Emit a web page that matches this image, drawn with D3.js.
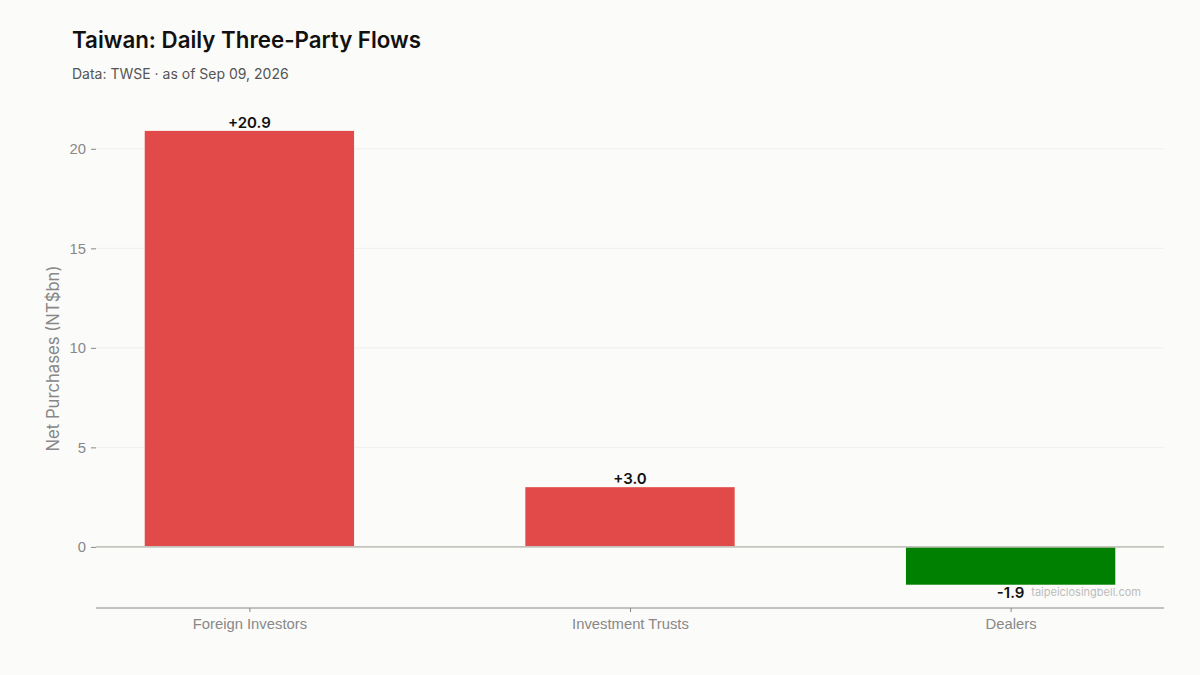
<!DOCTYPE html>
<meta charset="utf-8">
<style>
body { margin: 0; background: #fbfbf9; }
svg { display: block; font-family: Inter, "Noto Sans", sans-serif; }
.tick text { fill: #888; font-size: 14.8px; }
.tick line { stroke: #888; }
.grid line { stroke: #efefeb; stroke-width: 1; }
</style>
<body>
<script src="https://cdn.jsdelivr.net/npm/d3@7"></script>
<script>
var categories = ["Foreign Investors", "Investment Trusts", "Dealers"];
var values = [20.9, 3.0, -1.9];
var yTicks = [0, 5, 10, 15, 20];

var width = 1200, height = 675;
var mLeft = 96, mRight = 1164, mTop = 109, mBottom = 608;

var svg = d3.select("body").append("svg")
    .attr("width", width)
    .attr("height", height);

svg.append("rect").attr("width", width).attr("height", height).attr("fill", "#fbfbf9");

var x = d3.scalePoint().domain(categories).range([mLeft, mRight]).padding(0.403);
var barW = x.step() * 0.55;
var y = d3.scaleLinear().domain([-3.07, 22]).range([mBottom, mTop]);

// grid
svg.append("g").attr("class", "grid")
  .selectAll("line").data(yTicks.filter(d => d !== 0))
  .enter().append("line")
    .attr("x1", mLeft).attr("x2", mRight)
    .attr("y1", d => y(d)).attr("y2", d => y(d));

// bars
svg.selectAll(".bar").data(values)
  .enter().append("rect")
    .attr("class", "bar")
    .attr("x", (d, i) => x(categories[i]) - barW / 2)
    .attr("width", barW)
    .attr("y", d => y(Math.max(0, d)))
    .attr("height", d => Math.abs(y(d) - y(0)))
    .attr("fill", d => d >= 0 ? "#e24a4a" : "#008000");

// zero line
svg.append("line")
  .attr("x1", mLeft).attr("x2", mRight)
  .attr("y1", y(0)).attr("y2", y(0))
  .attr("stroke", "#c4c4bc").attr("stroke-width", 1.6);

// y axis
var yAxis = svg.append("g")
  .attr("transform", "translate(" + mLeft + ",0)")
  .call(d3.axisLeft(y).tickValues(yTicks).tickSize(5).tickPadding(5));
yAxis.select(".domain").remove();

// x axis
var xAxis = svg.append("g")
  .attr("transform", "translate(0," + mBottom + ")")
  .call(d3.axisBottom(x).tickSize(4).tickPadding(6));
xAxis.select(".domain").attr("stroke", "#888").attr("d", "M" + mLeft + ",0H" + mRight);

// value labels
svg.selectAll(".val").data(values)
  .enter().append("text")
    .attr("class", "val")
    .attr("x", (d, i) => x(categories[i]))
    .attr("y", d => d >= 0 ? y(d) - 3 : y(d) + 13)
    .attr("text-anchor", "middle")
    .attr("font-size", 15)
    .attr("font-weight", 600)
    .attr("fill", "#111")
    .text(d => (d >= 0 ? "+" : "") + d.toFixed(1));

// y label
svg.append("text")
  .attr("transform", "translate(59," + ((mTop + mBottom) / 2) + ") rotate(-90)")
  .attr("text-anchor", "middle")
  .attr("font-size", 16.7)
  .attr("fill", "#888")
  .text("Net Purchases (NT$bn)");

// title
svg.append("text")
  .attr("x", 72).attr("y", 48)
  .attr("font-size", 22.3).attr("font-weight", 600).attr("fill", "#111")
  .text("Taiwan: Daily Three-Party Flows");
svg.append("text")
  .attr("x", 72).attr("y", 79)
  .attr("font-size", 14).attr("fill", "#555")
  .text("Data: TWSE · as of Sep 09, 2026");

// watermark
svg.append("text")
  .attr("x", 1141).attr("y", 596)
  .attr("text-anchor", "end")
  .attr("font-size", 11).attr("fill", "#bbb")
  .text("taipeiclosingbell.com");
</script>
